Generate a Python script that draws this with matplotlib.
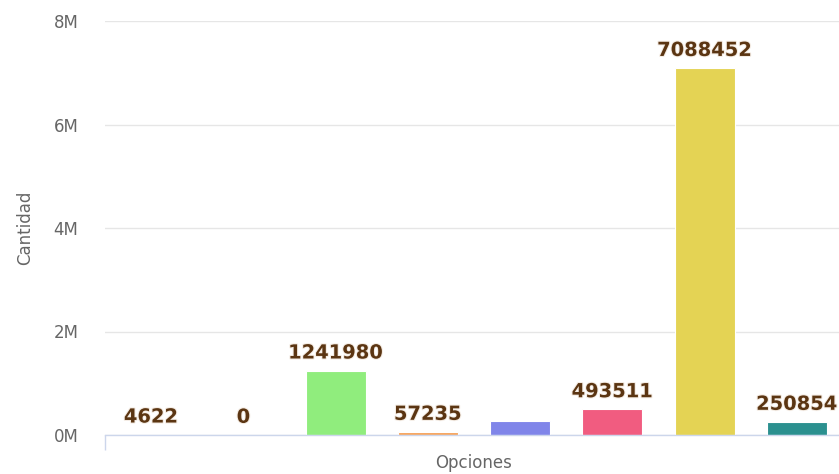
import matplotlib
matplotlib.use("Agg")
import matplotlib.pyplot as plt
import matplotlib.patheffects as pe
from matplotlib.ticker import FuncFormatter

categories = ["Opción 1", "Opción 2", "Opción 3", "Opción 4", "Opción 5", "Opción 6", "Opción 7", "Opción 8"]
values = [4622, 0, 1241980, 57235, 280000, 493511, 7088452, 250854]
show_label = [True, True, True, True, False, True, True, True]
colors = ["#7cb5ec", "#434348", "#90ed7d", "#f7a35c", "#8085e9", "#f15c80", "#e4d354", "#2b908f"]
yticks = [0, 2e6, 4e6, 6e6, 8e6]

W, H = 839, 474
fig = plt.figure(figsize=(W / 100, H / 100), dpi=100)
ax = fig.add_axes([105 / W, 1 - 435 / H, (843 - 105) / W, (435 - 21) / H])

x = list(range(len(categories)))
ax.bar(x, values, width=0.65, color=colors, edgecolor="white", linewidth=0.8, zorder=3)

for xi, v, s in zip(x, values, show_label):
    if s:
        ax.annotate(str(v), (xi, v), xytext=(0, 8.8), textcoords="offset points",
                    ha="center", va="baseline", fontsize=14, fontweight="bold",
                    color="#5b3512", zorder=5,
                    path_effects=[pe.withStroke(linewidth=1.5, foreground="#f4ece4")])

ax.set_xlim(-0.5, 7.5)
ax.set_ylim(0, 8e6)
ax.set_yticks(yticks)
ax.yaxis.set_major_formatter(FuncFormatter(lambda v, p: f"{int(v / 1e6)}M"))
ax.tick_params(axis="y", length=0, pad=19, labelsize=12, labelcolor="#666666")
ax.set_xticks([-0.5])
ax.set_xticklabels([""])
ax.tick_params(axis="x", length=11, width=1, color="#ccd6eb")

ax.grid(axis="y", color="#e6e6e6", linewidth=1, zorder=0)
for sp in ["top", "right", "left"]:
    ax.spines[sp].set_visible(False)
ax.spines["bottom"].set_color("#ccd6eb")
ax.spines["bottom"].set_linewidth(1)
ax.spines["bottom"].set_zorder(4)

ax.set_ylabel("Cantidad", fontsize=12, color="#666666", labelpad=14)
ax.set_xlabel("Opciones", fontsize=12, color="#666666")
ax.xaxis.set_label_coords((474 - 105) / (843 - 105), -(463 - 435) / (435 - 21))
ax.xaxis.label.set_verticalalignment("center")

fig.savefig("out.png", dpi=100)
